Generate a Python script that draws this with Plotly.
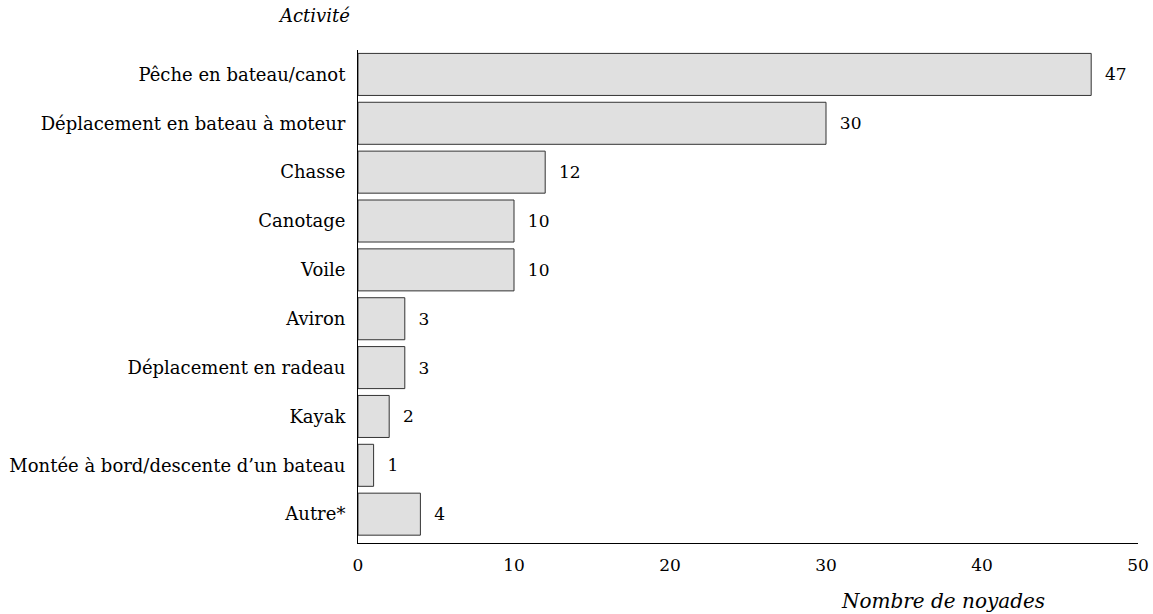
import plotly.graph_objects as go

# Activités et nombre de noyades
activites = ['Pêche en bateau/canot', 'Déplacement en bateau à moteur', 'Chasse',
             'Canotage', 'Voile', 'Aviron', 'Déplacement en radeau', 'Kayak',
             'Montée à bord/descente d’un bateau', 'Autre*']
noyades = [47, 30, 12, 10, 10, 3, 3, 2, 1, 4]
x_ticks = [0, 10, 20, 30, 40, 50]

police = 'DejaVu Serif'

fig = go.Figure()
fig.add_trace(go.Bar(
    x=noyades, y=activites, orientation='h',
    marker=dict(color='#e0e0e0', line=dict(color='#333333', width=1)),
    text=noyades, texttemplate='  %{text}', textposition='outside',
    textfont=dict(family=police, size=17, color='black'),
    cliponaxis=False,
))

fig.update_layout(
    width=1153, height=614,
    margin=dict(l=358, r=15, t=50, b=71),
    plot_bgcolor='white', paper_bgcolor='white',
    font=dict(family=police, size=17, color='black'),
    bargap=0.14, showlegend=False,
)
fig.update_xaxes(range=[0, 50], tickvals=x_ticks, showgrid=False, zeroline=False,
                 showline=True, linecolor='black', linewidth=1, ticks='',
                 tickfont=dict(size=17), ticklabelstandoff=7, automargin=False)
fig.update_yaxes(categoryorder='array', categoryarray=activites, range=[9.59, -0.5],
                 showgrid=False, showline=True, linecolor='black', linewidth=1,
                 ticks='', ticklabelstandoff=8, tickfont=dict(size=18),
                 automargin=False)

# Titres des axes
fig.add_annotation(text='<i>Activité</i>', xref='paper', yref='paper',
                   x=-0.008, y=1.0, yshift=35, xanchor='right', yanchor='middle',
                   showarrow=False, font=dict(size=18))
fig.add_annotation(text='<i>Nombre de noyades</i>', xref='x', yref='paper',
                   x=37.5, y=0, yshift=-58, xanchor='center', yanchor='middle',
                   showarrow=False, font=dict(size=20))

# pas de marge autour de la figure dans la page
fig.write_html('out.html', config={'displayModeBar': False},
               post_script="document.body.style.margin='0px';")
